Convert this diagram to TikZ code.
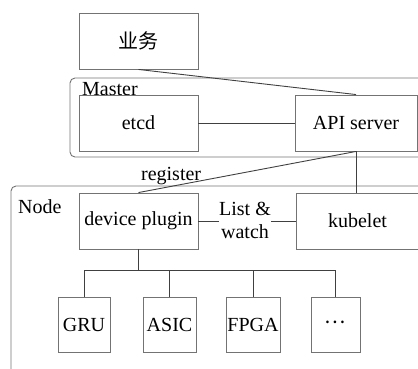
\documentclass[tikz,border=0pt]{standalone}
\usepackage{fontspec}
\setmainfont{Liberation Serif}
\newfontfamily\tms{Liberation Serif}
\newfontfamily\cjk{Noto Sans CJK SC}
\begin{document}
\begin{tikzpicture}[x=1pt,y=-1pt,
  box/.style={draw=black!55, line width=0.9pt, fill=white, inner sep=0pt, font=\tms\fontsize{20}{23}\selectfont},
  grp/.style={draw=black!55, line width=0.9pt, rounded corners=5pt},
  conn/.style={draw=black!75, line width=0.9pt},
  lbl/.style={inner sep=0pt, font=\tms\fontsize{20}{23}\selectfont}]
\useasboundingbox (0,0) rectangle (418,368);
\clip (0,0) rectangle (418,368);
% containers
\draw[grp] (70,78) rectangle (440,157);
\node[lbl, anchor=west] (mlabel) at (82,89) {Master};
\draw[grp] (11,186) rectangle (440,400);
\node[lbl, anchor=west] (nlabel) at (18,207) {Node};
% boxes
\node[box, minimum width=119pt, minimum height=56pt] (biz) at (138.5,41) {\cjk 业务};
\node[box, minimum width=119pt, minimum height=56pt] (etcd) at (138.5,123) {etcd};
\node[box, minimum width=122pt, minimum height=56pt] (api) at (356,123) {API server};
\node[box, minimum width=119pt, minimum height=56pt] (dp) at (138.5,221) {device plugin};
\node[box, minimum width=122pt, minimum height=56pt] (kube) at (357.5,221) {kubelet};
\node[box, minimum width=52pt, minimum height=55pt] (gru) at (84,324.5) {GRU};
\node[box, minimum width=53pt, minimum height=55pt] (asic) at (169.5,324.5) {ASIC};
\node[box, minimum width=54pt, minimum height=55pt] (fpga) at (253,324.5) {FPGA};
\node[box, minimum width=49pt, minimum height=55pt] (more) at (335.5,324.5) {\raisebox{5pt}{\cjk …}};
% connectors
\draw[conn] (biz.south) -- (api.north);
\draw[conn] (etcd.east) -- (api.east -| api.west);
\draw[conn] (api.south) -- (dp.north) node[lbl, pos=0.85, above=1pt] (reg) {register};
\draw[conn] (api.south) -- (api.south |- kube.north);
\draw[conn] (dp.east) -- (kube.west);
\node[lbl, align=center, fill=white] (lw) at (245,220) {List \&\\watch};
\coordinate (bus) at (138.5,270);
\draw[conn] (dp.south) -- (bus);
\draw[conn] (gru.north) -- (gru.north |- bus) -- (more.north |- bus) -- (more.north);
\draw[conn] (asic.north) -- (asic.north |- bus);
\draw[conn] (fpga.north) -- (fpga.north |- bus);
\end{tikzpicture}
\end{document}
